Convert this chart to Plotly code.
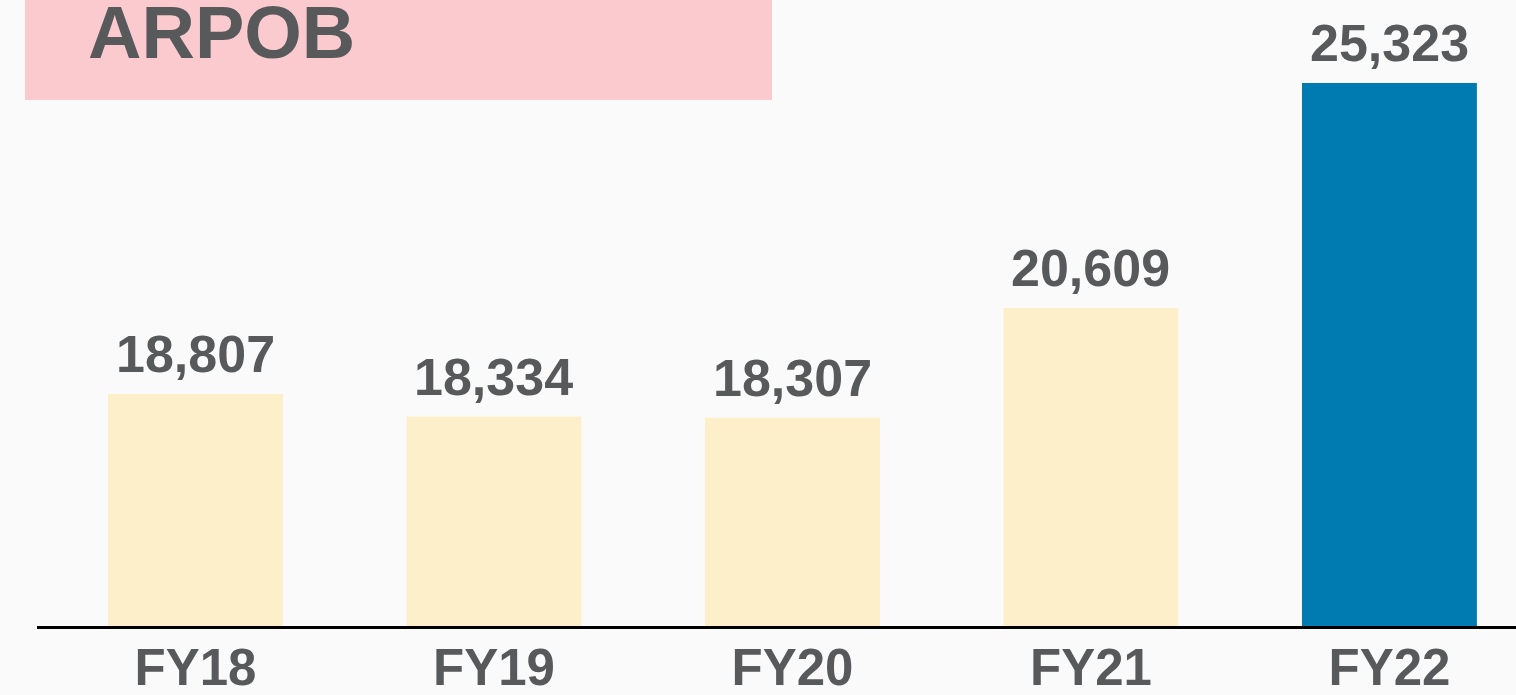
import plotly.graph_objects as go

categories = ["FY18", "FY19", "FY20", "FY21", "FY22"]
values = [18807, 18334, 18307, 20609, 25323]
bar_colors = ["#fdefca", "#fdefca", "#fdefca", "#fdefca", "#007bb1"]
value_labels = ["18,807", "18,334", "18,307", "20,609", "25,323"]
title_text = "ARPOB"

W, H = 1516, 695
L, B = 37, 69
plot_w = W - L
plot_h = H - B

text_color = "#58595b"
font_family = "Liberation Sans, Arial, Helvetica, sans-serif"

fig = go.Figure()
fig.add_trace(go.Bar(
    x=categories, y=values,
    marker=dict(color=bar_colors, line=dict(width=0)),
    hoverinfo="skip",
))

for c, v, t in zip(categories, values, value_labels):
    fig.add_annotation(
        x=c, y=v, text=f"<b>{t}</b>", showarrow=False,
        xanchor="center", yanchor="bottom", yshift=9,
        font=dict(family=font_family, size=52, color=text_color),
    )

# title box
fig.add_shape(
    type="rect", xref="paper", yref="paper",
    x0=(25 - L) / plot_w, x1=(772 - L) / plot_w,
    y0=(plot_h - 100) / plot_h, y1=1.0,
    fillcolor="#fbcace", line=dict(width=0), layer="below",
)
fig.add_annotation(
    xref="paper", yref="paper",
    x=(86 - L) / plot_w, y=(plot_h - 32) / plot_h,
    xanchor="left", yanchor="middle", showarrow=False,
    text=f"<b>{title_text}</b>",
    font=dict(family=font_family, size=74, color=text_color),
)

fig.update_layout(
    width=W, height=H,
    margin=dict(l=L, r=0, t=0, b=B, pad=0, autoexpand=False),
    paper_bgcolor="#fafafa", plot_bgcolor="#fafafa",
    bargap=0.414, showlegend=False,
    xaxis=dict(
        type="category", range=[-0.531, 4.424], automargin=False,
        showline=True, linecolor="#000000", linewidth=3,
        showgrid=False, zeroline=False, ticks="",
        ticklabelstandoff=-5,
        tickfont=dict(family=font_family, size=51, color=text_color),
        tickvals=categories, ticktext=[f"<b>{c}</b>" for c in categories],
        fixedrange=True,
    ),
    yaxis=dict(
        range=[13946, 27062], visible=False, showgrid=False, automargin=False,
        zeroline=False, fixedrange=True,
    ),
)

fig.write_html(
    "out.html",
    config={"displayModeBar": False, "staticPlot": True},
    post_script="document.body.style.margin='0px';document.body.style.background='#fafafa';",
)
